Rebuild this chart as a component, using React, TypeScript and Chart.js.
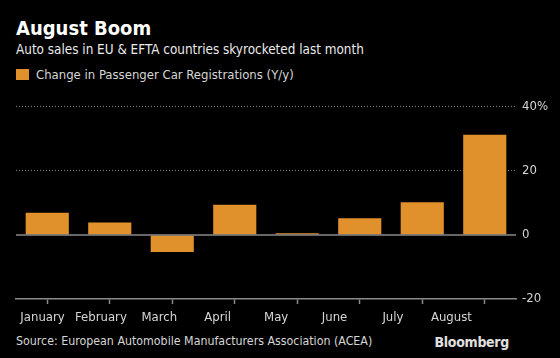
import React, { useEffect, useRef } from "react";
import { Chart, registerables } from "chart.js";

Chart.register(...registerables);

const categories = ["January", "February", "March", "April", "May", "June", "July", "August"];
const changeValues = [6.9, 3.9, -5.3, 9.4, 0.5, 5.2, 10.2, 31.3];
const yTicks = [-20, 0, 20, 40];
const labelSlots = [0, 1, 2, 3, 4, 5, 6, 7];
const seriesLabel = "Change in Passenger Car Registrations (Y/y)";

const FONT = "'DejaVu Sans Condensed', 'Liberation Sans Narrow', 'DejaVu Sans', sans-serif";
const BAR = "#e0912b";
const TEXT = "#d6d6d6";

export default function App() {
  const ref = useRef<HTMLCanvasElement | null>(null);

  useEffect(() => {
    document.body.style.margin = "0";
    document.body.style.background = "#000";
    const canvas = ref.current;
    if (!canvas) return;

    const zeroLine = {
      id: "zeroLine",
      afterDatasetsDraw(chart: any) {
        const y = chart.scales.y.getPixelForValue(0);
        const { left, right } = chart.chartArea;
        const ctx = chart.ctx;
        ctx.save();
        ctx.strokeStyle = "#8a8a8a";
        ctx.lineWidth = 1.5;
        ctx.beginPath();
        ctx.moveTo(left, y);
        ctx.lineTo(right, y);
        ctx.stroke();
        ctx.restore();
      },
    };

    const chart = new Chart(canvas, {
      type: "bar",
      data: {
        labels: categories,
        datasets: [
          {
            label: seriesLabel,
            data: changeValues,
            backgroundColor: BAR,
            borderWidth: 0,
            barPercentage: 0.69,
            categoryPercentage: 1,
          },
        ],
      },
      options: {
        responsive: false,
        animation: false,
        devicePixelRatio: 1,
        layout: { padding: { left: 16, top: 6, right: 0, bottom: 0 } },
        plugins: {
          legend: { display: false },
          tooltip: { enabled: false },
        },
        scales: {
          x: {
            offset: true,
            weight: 0,
            grid: {
              display: true,
              offset: false,
              drawOnChartArea: false,
              drawTicks: true,
              tickLength: 5,
              color: "#8a8a8a",
              tickColor: "#8a8a8a",
              tickWidth: 1.5,
            },
            border: { display: true, color: "#8a8a8a", width: 1.5 },
            ticks: {
              display: true,
              padding: 0,
              font: { size: 1 },
              autoSkip: false,
              maxRotation: 0,
              callback: () => "",
            },
            afterFit: (s: any) => {
              s.height = 5;
            },
          },
          xLabels: {
            type: "linear",
            position: "bottom",
            weight: 1,
            offset: false,
            bounds: "data",
            min: -0.454,
            max: 8.107,
            afterBuildTicks: (s: any) => {
              s.ticks = labelSlots.map((v) => ({ value: v }));
            },
            grid: { display: false, drawTicks: false, offset: false },
            border: { display: false },
            ticks: {
              color: TEXT,
              font: { family: FONT, size: 13 },
              padding: 6,
              maxRotation: 0,
              autoSkip: false,
              callback: (v: any) => categories[v as number] ?? "",
            },
            afterFit: (s: any) => {
              s.height = 29;
            },
          },
          y: {
            position: "right",
            min: -20,
            max: 40,
            afterBuildTicks: (s: any) => {
              s.ticks = yTicks.map((v) => ({ value: v }));
            },
            grid: {
              drawTicks: false,
              color: (c: any) =>
                c.tick && (c.tick.value === 0 || c.tick.value === -20) ? "rgba(0,0,0,0)" : "#7a7a7a",
            },
            border: { display: false, dash: [1, 2] },
            ticks: {
              color: TEXT,
              font: { family: FONT, size: 13 },
              padding: 6,
              callback: (v: any) => (v === 40 ? "40%" : String(v)),
            },
            afterFit: (s: any) => {
              s.width = 44;
            },
          },
        },
      } as any,
      plugins: [zeroLine],
    });
    return () => chart.destroy();
  }, []);

  const base: React.CSSProperties = { position: "absolute", fontFamily: FONT, whiteSpace: "nowrap" };

  return (
    <div style={{ position: "relative", width: 560, height: 358, background: "#000", overflow: "hidden" }}>
      <div style={{ ...base, left: 16, top: 18, fontSize: 20, lineHeight: "20px", fontWeight: 700, color: "#fff" }}>
        August Boom
      </div>
      <div style={{ ...base, left: 16, top: 43, fontSize: 13.4, lineHeight: "14px", color: "#ececec" }}>
        Auto sales in EU &amp; EFTA countries skyrocketed last month
      </div>
      <div style={{ ...base, left: 16, top: 69, width: 13, height: 11, background: BAR }} />
      <div style={{ ...base, left: 36, top: 68, fontSize: 13, lineHeight: "13px", color: TEXT }}>{seriesLabel}</div>
      <canvas
        ref={ref}
        width={560}
        height={240}
        style={{ position: "absolute", left: 0, top: 93, width: 560, height: 240 }}
      />
      <div style={{ ...base, left: 16, top: 335, fontSize: 12.3, lineHeight: "13px", color: TEXT }}>
        Source: European Automobile Manufacturers Association (ACEA)
      </div>
      <div
        style={{ ...base, right: 51, top: 335, fontSize: 14, lineHeight: "14px", fontWeight: 700, color: "#e0e0e0", letterSpacing: "-0.3px" }}
      >
        Bloomberg
      </div>
    </div>
  );
}
